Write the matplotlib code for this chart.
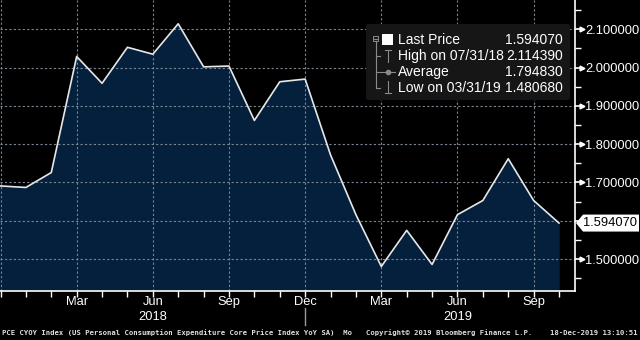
import matplotlib
matplotlib.use("Agg")
import matplotlib.pyplot as plt
from matplotlib.lines import Line2D
from matplotlib.patches import Polygon, FancyBboxPatch, Rectangle

# monthly data, Dec 2017 .. Oct 2019
months = list(range(23))
values = [1.691, 1.687, 1.726, 2.029, 1.959, 2.053, 2.035, 2.11439, 2.002, 2.004,
          1.862, 1.963, 1.970, 1.772, 1.616, 1.48068, 1.575, 1.486, 1.616, 1.653,
          1.762, 1.653, 1.59407]

quarter_pos = [3, 6, 9, 12, 15, 18, 21]
quarter_lbl = ["Mar", "Jun", "Sep", "Dec", "Mar", "Jun", "Sep"]
year_pos = [6, 18]
year_lbl = ["2018", "2019"]
ytick_vals = [1.5, 1.6, 1.7, 1.8, 1.9, 2.0, 2.1]

legend_rows = [("Last Price", "1.594070"),
               ("High on 07/31/18", "2.114390"),
               ("Average", "1.794830"),
               ("Low on 03/31/19", "1.480680")]

plt.rcParams['font.family'] = ['Liberation Sans', 'DejaVu Sans']

W, H = 640, 340
fig = plt.figure(figsize=(6.4, 3.4), dpi=100, facecolor='black')

def fx(x):
    return x / W

def fy(y):
    return 1 - y / H

ax = fig.add_axes([0, 49 / H, 575 / W, 291 / H])
ax.set_facecolor('black')

ax.fill_between(months, values, 0, color='#05203d', zorder=1)
ax.plot(months, values, color='#e6e6e6', lw=1.2, zorder=3)

ax.set_xlim(-0.02, 22.63)
ax.set_ylim(1.4167, 2.1765)

# grid
for q in [0] + quarter_pos:
    ax.axvline(q, color='#7a8793', lw=0.8, ls=(0, (2, 2)), zorder=2)
for v in ytick_vals:
    ax.axhline(v, color='#7a8793', lw=0.8, ls=(0, (2, 2)), zorder=2)

for s in ['top', 'left']:
    ax.spines[s].set_visible(False)
ax.spines['right'].set_color('white')
ax.spines['bottom'].set_color('white')
ax.spines['right'].set_linewidth(1.2)
ax.spines['bottom'].set_linewidth(1.2)

# y axis on the right
ax.yaxis.tick_right()
ax.set_yticks(ytick_vals)
ax.set_yticklabels(["%.6f" % v if abs(v - 1.6) > 1e-9 else "" for v in ytick_vals])
ax.set_yticks([1.45, 1.55, 1.65, 1.75, 1.85, 1.95, 2.05, 2.15], minor=True)
ax.tick_params(axis='y', which='major', length=6, width=1.2, color='white',
               labelcolor='white', labelsize=9.3, pad=1.5)
ax.tick_params(axis='y', which='minor', length=4, width=1, color='white')
for v in ytick_vals:
    if abs(v - 1.6) > 1e-9:
        ax.plot([1.0 + 6.5 / 575], [v], marker='>', ms=3.5, color='white',
                transform=ax.get_yaxis_transform(), clip_on=False, zorder=5)

# x axis
ax.set_xticks(months)
ax.set_xticklabels([])
ax.tick_params(axis='x', which='major', length=4, width=1, color='white', direction='out')
for p, l in zip(quarter_pos, quarter_lbl):
    ax.text(p, -0.016, l, transform=ax.get_xaxis_transform(), ha='center', va='top',
            color='white', fontsize=9.3)
for p, l in zip(year_pos, year_lbl):
    ax.text(p, -0.068, l, transform=ax.get_xaxis_transform(), ha='center', va='top',
            color='white', fontsize=9.3)
ax.plot([12, 12], [-0.058, -0.117], color='#9a9a9a', lw=1,
        transform=ax.get_xaxis_transform(), clip_on=False)

# last price tag
fig.canvas.draw()
_, ypix = ax.transData.transform((0, values[-1]))
yl = H - ypix
tag = Polygon([(fx(576), fy(yl)), (fx(583), fy(yl - 8.5)), (fx(639), fy(yl - 8.5)),
               (fx(639), fy(yl + 8.5)), (fx(583), fy(yl + 8.5))], closed=True,
              facecolor='white', edgecolor='none', transform=fig.transFigure)
fig.patches.append(tag)
fig.text(fx(610.5), fy(yl), "%.6f" % values[-1], ha='center', va='center',
         color='black', fontsize=9.3)

# legend box
box = FancyBboxPatch((fx(366), fy(100)), fx(204), 76 / H,
                     boxstyle="round,pad=0,rounding_size=0.006",
                     facecolor='#161616', edgecolor='none', transform=fig.transFigure)
fig.patches.append(box)
row_y = [40, 56, 72, 88]
for (name, val), yy in zip(legend_rows, row_y):
    fig.text(fx(398), fy(yy), name, ha='left', va='center', color='white', fontsize=10)
    fig.text(fx(563), fy(yy), val, ha='right', va='center', color='white', fontsize=10)

grey = '#8a8a8a'
def seg(x0, y0, x1, y1, c=grey, lw=0.8):
    fig.add_artist(Line2D([fx(x0), fx(x1)], [fy(y0), fy(y1)], color=c, lw=lw,
                          transform=fig.transFigure))

fig.patches.append(Rectangle((fx(373), fy(41)), fx(5), 5 / H, facecolor='none',
                             edgecolor=grey, lw=0.7, transform=fig.transFigure))
seg(374, 38.5, 377, 38.5)
seg(375.5, 41, 375.5, 88)
for yy in row_y[1:]:
    seg(375.5, yy, 380, yy)
fig.patches.append(Rectangle((fx(382), fy(45)), fx(11), 11 / H, facecolor='white',
                             edgecolor='none', transform=fig.transFigure))
# high icon
seg(385, 49.5, 391, 49.5)
seg(388, 49.5, 388, 62)
# average icon
seg(381, 72, 395, 72)
fig.add_artist(Line2D([fx(388)], [fy(72)], marker='o', ms=3, color=grey,
                      transform=fig.transFigure))
# low icon
seg(388, 81, 388, 93)
seg(385, 93, 391, 93)

# footer
foot = dict(color='#e0e0e0', fontsize=5.2, family=['DejaVu Sans Mono'], va='center',
            fontweight='bold')
fig.text(fx(2), fy(333),
         "PCE CYOY Index (US Personal Consumption Expenditure Core Price Index YoY SA)  Mo",
         ha='left', **foot)
fig.text(fx(366), fy(333), "Copyright\u00a9 2019 Bloomberg Finance L.P.", ha='left', **foot)
fig.text(fx(638), fy(333), "18-Dec-2019 13:10:51", ha='right', **foot)

fig.savefig("out.png", dpi=100, facecolor='black')
